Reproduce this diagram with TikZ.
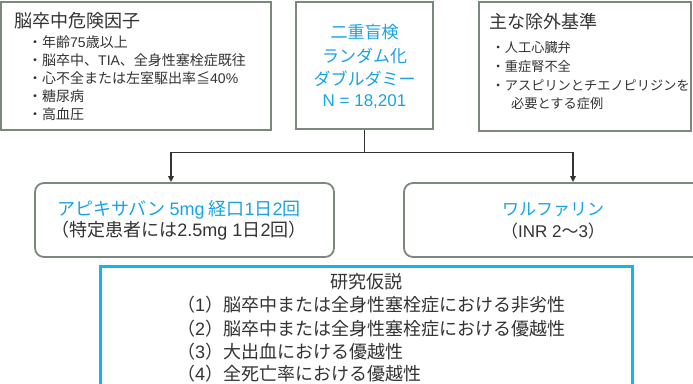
\documentclass[tikz,border=0pt]{standalone}
\usepackage{fontspec}
\setmainfont{Noto Sans CJK JP}
\newfontfamily\latfont{Liberation Sans}
\newcommand\ltn[1]{{\latfont #1}}
\usetikzlibrary{arrows.meta}
\definecolor{txt}{HTML}{333333}
\definecolor{cyanT}{HTML}{1AA3E3}
\definecolor{cyanB}{HTML}{12B5EE}
\definecolor{boxG}{HTML}{7D887D}
\definecolor{lineD}{HTML}{333333}
\tikzset{
  gbox/.style={draw=boxG, line width=1.8pt, inner sep=0pt},
  rbox/.style={gbox, rounded corners=9pt},
  hbox/.style={draw=cyanB, line width=3pt, inner sep=0pt},
  ttl/.style={font=\fontsize{18}{20}\selectfont, text=txt, anchor=west, inner sep=0pt},
  bul/.style={font=\fontsize{14}{16}\selectfont, text=txt, anchor=west, inner sep=0pt},
  bulr/.style={font=\fontsize{13.2}{16}\selectfont, text=txt, anchor=west, inner sep=0pt},
  ctxt/.style={font=\fontsize{17}{20}\selectfont, text=cyanT, inner sep=0pt},
  mtxt/.style={font=\fontsize{17}{20}\selectfont, text=txt, inner sep=0pt},
  armA/.style={font=\fontsize{18}{20}\selectfont, inner sep=0pt},
  htxt/.style={font=\fontsize{18}{20}\selectfont, text=txt, inner sep=0pt},
  conn/.style={draw=lineD, line width=1.6pt},
  tip/.style={-{Triangle[length=6pt,width=5.5pt]}}
}
\begin{document}
\begin{tikzpicture}[x=1pt,y=-1pt]
\useasboundingbox (0,0) rectangle (693,383);
\clip (0,0) rectangle (693,383);
\fill[white] (0,0) rectangle (693,383);

% top boxes
\node[gbox, minimum width=270pt, minimum height=128pt] (lbox) at (136,66) {};
\node[gbox, minimum width=137pt, minimum height=127pt] (cbox) at (364.5,65.5) {};
\node[gbox, minimum width=212pt, minimum height=129pt] (rbox) at (585,66.5) {};

% left box text
\node[ttl] (lt) at (14,21) {脳卒中危険因子};
\node[bul] (l1) at (28,42.5) {・年齢\ltn{75}歳以上};
\node[bul] (l2) at (28,60.5) {・脳卒中、\ltn{TIA}、全身性塞栓症既往};
\node[bul] (l3) at (28,78.5) {・心不全または左室駆出率≦\ltn{40\%}};
\node[bul] (l4) at (28,96.5) {・糖尿病};
\node[bul] (l5) at (28,114.5) {・高血圧};

% center box text
\node[ctxt] (c1) at (364.5,32) {二重盲検};
\node[ctxt] (c2) at (364.5,55.5) {ランダム化};
\node[ctxt] (c3) at (364.5,79) {ダブルダミー};
\node[ctxt] (c4) at (364.5,102) {\ltn{N = 18,201}};

% right box text
\node[ttl] (rt) at (489,22) {主な除外基準};
\node[bulr] (r1) at (491.5,47) {・人工心臓弁};
\node[bulr] (r2) at (491.5,66.5) {・重症腎不全};
\node[bulr] (r3) at (491.5,85.5) {・アスピリンとチエノピリジンを};
\node[bulr] (r4) at (511,103.5) {必要とする症例};

% arm boxes
\node[rbox, minimum width=299pt, minimum height=74pt] (abox) at (184.5,220) {};
\node[rbox, minimum width=302pt, minimum height=74pt] (wbox) at (555,220) {};
\node[armA, text=cyanT] (a1) at (179,210) {アピキサバン \ltn{5mg} 経口\ltn{1}日\ltn{2}回};
\node[armA, text=txt] (a2) at (179,231) {（特定患者には\ltn{2.5mg 1}日\ltn{2}回）};
\node[ctxt] (w1) at (553,210) {ワルファリン};
\node[mtxt] (w2) at (553,231) {（\ltn{INR 2}～\ltn{3}）};

% hypothesis box
\node[hbox, minimum width=532pt, minimum height=134pt] (hbox) at (366,333) {};
\node[htxt] (h0) at (366.5,282) {研究仮説};
\node[htxt, anchor=west] (h1) at (177,305) {（\ltn{1}）脳卒中または全身性塞栓症における非劣性};
\node[htxt, anchor=west] (h2) at (177,328.5) {（\ltn{2}）脳卒中または全身性塞栓症における優越性};
\node[htxt, anchor=west] (h3) at (177,351.5) {（\ltn{3}）大出血における優越性};
\node[htxt, anchor=west] (h4) at (177,373.5) {（\ltn{4}）全死亡率における優越性};

% connectors
\draw[conn] (cbox.south) -- ++(0,22.5) coordinate (j);
\draw[conn,tip] (j) -| ([xshift=-13.5pt]abox.north);
\draw[conn,tip] (j) -| ([xshift=18pt]wbox.north);
\end{tikzpicture}
\end{document}
